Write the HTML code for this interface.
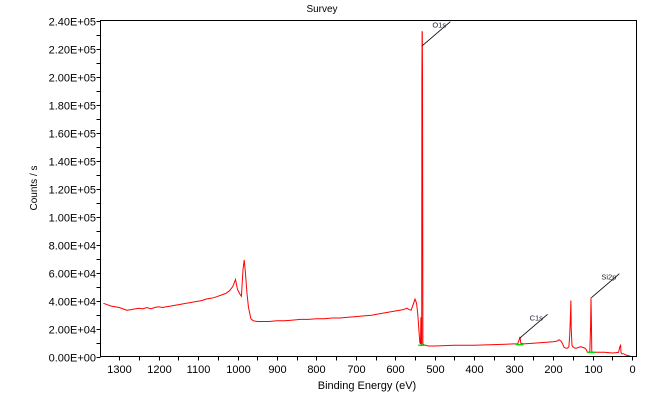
<!DOCTYPE html>
<html><head><meta charset="utf-8"><style>
body{margin:0;background:#fff;}
svg text{font-family:"Liberation Sans",sans-serif;}
</style></head><body>
<svg id="chart" width="650" height="411" viewBox="0 0 650 411" xmlns="http://www.w3.org/2000/svg">
<rect width="650" height="411" fill="#fff"/>
<text x="322" y="12" font-size="10" text-anchor="middle">Survey</text>
<text x="367" y="389" font-size="11" text-anchor="middle">Binding Energy  (eV)</text>
<text transform="translate(37,188) rotate(-90)" font-size="10" text-anchor="middle">Counts / s</text>
<g id="axes"></g>
<g id="series"></g>
<rect x="100.5" y="20.5" width="536" height="336" fill="none" stroke="#000" stroke-width="1"/>
</svg>
<script>
const energies=[1340,1330,1320,1310,1300,1290,1280,1270,1260,1250,1240,1230,1220,1210,1200,1190,1180,1170,1160,1150,1140,1130,1120,1110,1100,1090,1080,1070,1060,1050,1040,1030,1020,1012,1005,1000,995,990,986,983,980,976,972,966,960,950,940,930,920,900,880,860,840,820,800,780,760,740,720,700,680,660,640,620,600,580,570,565,560,555,550,546,543,540,538,536,535,534,533,532.5,532,531.5,531,530.5,530,526,515,500,450,400,350,300,290,286,284,282,275,250,200,190,185,180,176,172,168,163,160,158,156,155,154,152,150,145,140,135,130,125,120,116,113,110,107,105,104,103,102,101,99,90,80,70,60,50,40,34,31,29,28,26,22,18,15,12,8,5,3,0];
const counts=[38,37,36,35.5,35,34,33,33.5,34,34.5,34,35,34,35,35.5,35,35.5,36,36.5,37,37.5,38,38.5,39,39.5,40,41,41.5,42,43,44,45,47,50,55,48,45,43,62,69,60,45,35,27,25.5,25,25,25,25,25.5,25.5,26,26.5,26.5,27,27,27.5,27.5,28,28.5,29,29.5,30.5,31.5,32.5,33.5,34.5,33.5,33,37,41,38,30,18,10,9,28,9,8,200,232,232,200,110,9,8,7.5,7.5,8,8,8.5,9,9,12,14,9.5,9,9.5,10.5,11,12,11,9,6.5,6,6,7,15,30,40,20,8,7,6,6,6.5,7,6.5,6,5,3,3,3,22,42,25,3,3,3,3,3,3,2.8,2.5,2.8,3,7,8,3,2,2,1.5,1,0.8,0.5,0.3,0];
const yTickValues=[0,20000,40000,60000,80000,100000,120000,140000,160000,180000,200000,220000,240000];
const yTickLabels=["0.00E+00","2.00E+04","4.00E+04","6.00E+04","8.00E+04","1.00E+05","1.20E+05","1.40E+05","1.60E+05","1.80E+05","2.00E+05","2.20E+05","2.40E+05"];
const xTickValues=[1300,1200,1100,1000,900,800,700,600,500,400,300,200,100,0];
const xTickLabels=["1300","1200","1100","1000","900","800","700","600","500","400","300","200","100","0"];
const peakNames=["O1s","C1s","Si2p"];
const peakEnergies=[531.5,285,103];
const peakCounts=[222000,13000,42000];

const NS="http://www.w3.org/2000/svg";
const X0=100.5,X1=636.5,Y0=356.5,Y1=20.5;
function xs(e){return 632-e*0.3945;}
function ys(v){return Y0-(v/240000)*(Y0-Y1);}
function mk(t,a,p){const el=document.createElementNS(NS,t);for(const k in a)el.setAttribute(k,a[k]);p.appendChild(el);return el;}
const ax=document.getElementById('axes');
yTickValues.forEach((v,i)=>{
  const y=Math.round(ys(v))+0.5;
  const t=mk('line',{x1:X0-4,x2:X0,y1:y,y2:y,stroke:'#000'},ax);
  
  
  const l=mk('text',{x:96,y:y+4,'font-size':11,'text-anchor':'end'},ax);
  l.textContent=yTickLabels[i];
  
  
  if(i<yTickValues.length-1){
    const ym=Math.round(ys(v+10000))+0.5;
    const m=mk('line',{x1:X0-4,x2:X0,y1:ym,y2:ym,stroke:'#000'},ax);
    
    
  }
});
xTickValues.forEach((e,i)=>{
  const x=Math.round(xs(e))+0.5;
  const t=mk('line',{x1:x,x2:x,y1:Y0,y2:Y0+4,stroke:'#000'},ax);
  
  
  const l=mk('text',{x:x,y:373,'font-size':11,'text-anchor':'middle'},ax);
  l.textContent=xTickLabels[i];
  
  
  const xm=Math.round(xs(e+50))+0.5;
  if(xm>X0){
    const m=mk('line',{x1:xm,x2:xm,y1:Y0,y2:Y0+4,stroke:'#000'},ax);
    
    
  }
});
const se=document.getElementById('series');
const pts=energies.map((e,i)=>Math.max(X0,xs(e)).toFixed(1)+','+ys(counts[i]*1000).toFixed(1)).join(' ');
const line=mk('polyline',{points:pts,fill:'none',stroke:'#ff0000','stroke-width':1},se);


peakNames.forEach((n,i)=>{
  const x=xs(peakEnergies[i]),y=ys(peakCounts[i]);
  const bg=mk('line',{x1:x-4,x2:x+4,y1:ys(i==0?8000:i==1?8500:3000),y2:ys(i==0?8000:i==1?8500:3000),stroke:'#00dd00','stroke-width':1.5},se);
  
  
  const ld=mk('line',{x1:x,y1:y,x2:x+28,y2:y-24,stroke:'#000','stroke-width':0.8},se);
  
  
  const t=mk('text',{x:x+10,y:y-18,'font-size':7.5,fill:'#223'},se);
  t.textContent=n;
  
  
});
</script>
</body></html>
